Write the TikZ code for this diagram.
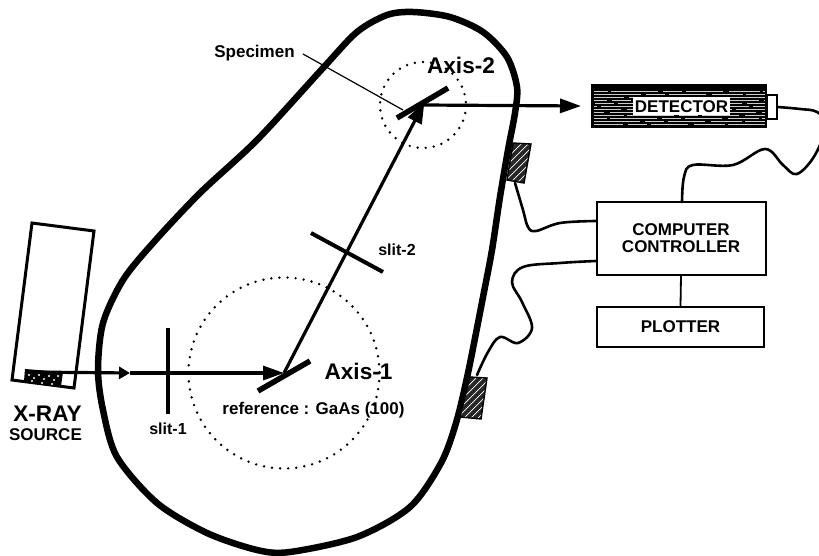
\documentclass[tikz,border=0pt]{standalone}
\usepackage{fontspec}
\setmainfont{Liberation Sans}
\usetikzlibrary{arrows.meta}
\tikzset{
  lab/.style={font=\bfseries\fontsize{17}{19}\selectfont,inner sep=0pt,align=center},
  big/.style={font=\bfseries\fontsize{22.6}{24}\selectfont,inner sep=0pt},
  smallab/.style={font=\bfseries\fontsize{16}{18}\selectfont,inner sep=0pt},
  boxn/.style={draw,line width=2pt,inner sep=0pt,font=\bfseries\fontsize{17}{18}\selectfont,align=center},
  frame/.style={line width=6.5pt,line join=round},
  beam/.style={line width=3.2pt},
  slitbar/.style={line width=4pt},
  crystal/.style={line width=5.5pt},
  dots/.style={line width=2.7pt,line cap=round,dash pattern=on 0pt off 8.1pt},
  cable/.style={line width=2.6pt,line cap=round},
  tipS/.style={-{Triangle[length=11pt,width=12pt]}},
  tipL/.style={-{Triangle[length=21pt,width=14pt]}},
}
\begin{document}
\begin{tikzpicture}[x=1pt,y=-1pt]
\useasboundingbox (0,0) rectangle (819,556);
\clip (0,0) rectangle (819,556);
% main frame
\draw[frame] plot[smooth cycle,tension=0.5] coordinates {
 (413,12)(450,17)(483,32)(507,57)(517,87)(515,113)(508,150)(500,197)(492,250)(484,292)(468,373)(456,423)
 (441,463)(410,507)(357,537)(290,552)(257,550)(207,533)(157,503)(117,457)(103,410)(98,370)(103,323)(123,280)
 (153,243)(200,193)(257,140)(323,68)(357,32)(387,15)};
% positions
\coordinate (ax1) at (284,373);
\coordinate (ax2) at (423,105);
\coordinate (srcout) at (25,372);
\coordinate (midtip) at (130,373);
% dotted circles
\draw[dots] (ax1) circle (95.5);
\draw[dots] (ax2) circle (43);
% X-ray source
\draw[line width=3pt,line join=miter] (32,223) -- (94,231) -- (74,388) -- (12,380) -- cycle;
\fill (25,369) -- (63,372) -- (61,386) -- (24,381) -- cycle;
\foreach \p in {(29,375),(34,378),(39,375),(44,379),(49,376),(54,380),(58,376),(32,381),(42,383),(52,384)}
  \fill[white] \p circle (1.1);
% beams
\draw[beam,tipS] (srcout) -- (midtip);
\draw[beam,tipL] (midtip) -- (ax1);
\draw[beam,-{Triangle[length=21pt,width=15pt]},shorten >=-3pt] (ax1) -- (ax2);
\draw[beam,tipL] (ax2) -- (581,106) coordinate (dettip);
% slits and crystals
\draw[slitbar] (168,328) -- (168,414);
\draw[slitbar] (311,233) -- (383,272);
\draw[crystal] (258,391) -- (310,361);
\draw[crystal] (397,118) -- (448,88);
\draw[line width=1.2pt] (303,54) -- (403,110);
% detector
\node[fill=black,minimum width=176pt,minimum height=44pt,inner sep=0pt] (det) at (679,106) {};
\foreach \y [count=\i] in {91,94,97,100,103,106,109,112,115,118,121,124}
  \draw[white!80!black,line width=0.55pt,dash pattern=on 31pt off 3pt on 47pt off 5pt on 19pt off 4pt on 37pt off 6pt,dash phase=\i*17pt] (594,\y) -- (765,\y);
\node[fill=white,minimum width=97pt,minimum height=18pt,inner sep=0pt,font=\bfseries\fontsize{17}{18}\selectfont] (detl) at (681.5,106.5) {DETECTOR};
\node[draw,line width=1.8pt,fill=white,minimum width=10pt,minimum height=24pt,inner sep=0pt] (plug) at (772,107) {};
% boxes
\node[boxn,minimum width=169pt,minimum height=73pt] (comp) at (681,238.5) {COMPUTER\\[-1pt]CONTROLLER};
\node[boxn,minimum width=167pt,minimum height=40pt] (plot) at (680.5,327) {PLOTTER};
\draw[line width=1.8pt] (comp.south) -- (plot.north);
% hatch blocks
\begin{scope}
\clip (513,143) -- (531,144) -- (524,183) -- (507,180) -- cycle;
\fill[black!85] (500,135) rectangle (540,190);
\foreach \k in {0,7,...,42}
  \draw[white,line width=0.7pt] (505,160+\k) -- (535,130+\k);
\end{scope}
\draw[line width=1.4pt] (513,143) -- (531,144) -- (524,183) -- (507,180) -- cycle;
\begin{scope}
\clip (470,377) -- (487,378) -- (481,419) -- (460,417) -- cycle;
\fill[black!85] (455,370) rectangle (495,425);
\foreach \k in {0,7,...,42}
  \draw[white,line width=0.7pt] (458,396+\k) -- (490,364+\k);
\end{scope}
\draw[line width=1.4pt] (470,377) -- (487,378) -- (481,419) -- (460,417) -- cycle;
% cables
\draw[cable] plot[smooth,tension=0.6] coordinates {(plug.east)(800,109)(817,112)(826,125)(815,155)(797,174)(783,165)(765,149)(733,165)(693,165)(684,177)(682,202)};
\draw[cable] plot[smooth,tension=0.6] coordinates {(515,183)(523,210)(528,227)(536,231)(560,223)(comp.west |- 0,221)};
\draw[cable] plot[smooth,tension=0.6] coordinates {(477,375)(488,352)(500,337)(518,343)(532,328)(522,302)(512,282)(523,267)(560,263)(comp.west |- 0,261)};
% labels
\node[lab] (tspec) at (254.5,53) {Specimen};
\node[big] (tax2) at (461,65) {Axis-2};
\node[big] (tax1) at (358.5,371) {Axis-1};
\node[lab] (tref) at (313.5,410) {reference : GaAs (100)};
\node[smallab] (ts1) at (168,429) {slit-1};
\node[smallab] (ts2) at (397,250) {slit-2};
\node[big] (txr) at (47.5,414) {X-RAY};
\node[lab] (tsrc) at (45.5,435) {SOURCE};
\end{tikzpicture}
\end{document}
